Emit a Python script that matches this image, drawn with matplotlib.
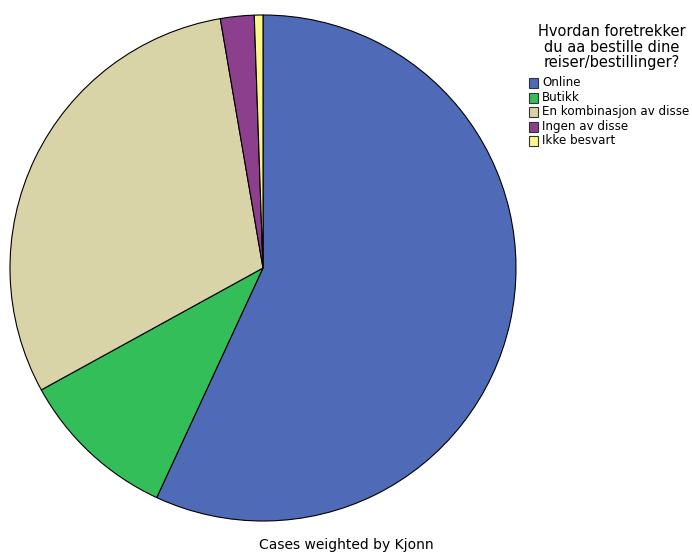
import matplotlib.pyplot as plt
from matplotlib.patches import Rectangle

# Data (percent)
labels = ['Online', 'Butikk', 'En kombinasjon av disse', 'Ingen av disse', 'Ikke besvart']
values = [56.9, 10.1, 30.3, 2.15, 0.55]
colors = ['#4F6BB8', '#33BE5A', '#D9D4A8', '#8C3F8C', '#FBF68A']
legend_title = 'Hvordan foretrekker\ndu aa bestille dine\nreiser/bestillinger?'

W, H = 692, 552
fig = plt.figure(figsize=(W / 100, H / 100), dpi=100)
ax = fig.add_axes([10/W, 31/H, 506/W, 506/H])
ax.pie(values, colors=colors, startangle=90, counterclock=False,
       wedgeprops=dict(edgecolor='black', linewidth=0.8), radius=1.0)
ax.set_xlim(-1.0, 1.0)
ax.set_ylim(-1.0, 1.0)
ax.set_aspect('equal')
ax.axis('off')

# Legend drawn by hand (pixel layout)
fig.text(612/W, 1 - 47/H, legend_title, ha='center', va='center',
         fontsize=10.5, linespacing=1.05, multialignment='center')
for i, (lab, col) in enumerate(zip(labels, colors)):
    yc = 83 + i * 14.5
    fig.add_artist(Rectangle((529/W, 1 - (yc + 5)/H), 9/W, 10/H, transform=fig.transFigure,
                             facecolor=col, edgecolor='#333333', linewidth=0.8))
    fig.text(542/W, 1 - yc/H, lab, ha='left', va='center', fontsize=8.6)

fig.text(346/W, 1 - 545/H, 'Cases weighted by Kjonn', ha='center', va='center', fontsize=10)

fig.savefig('out.png', dpi=100)
